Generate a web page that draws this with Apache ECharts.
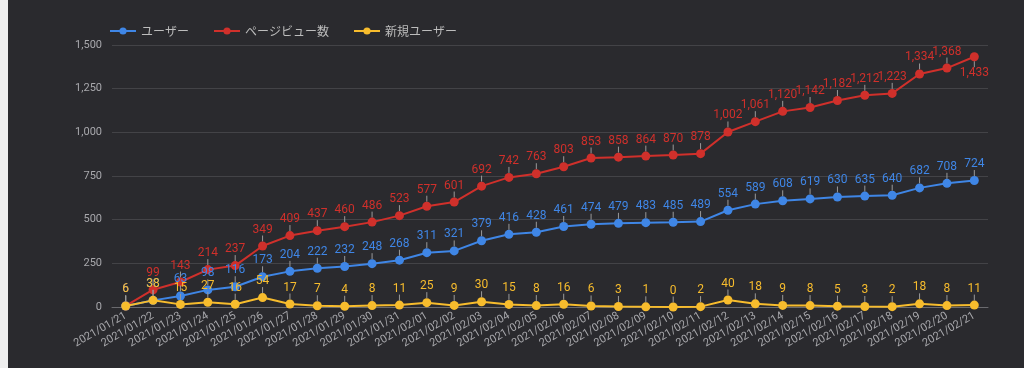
<!DOCTYPE html>
<html><head><meta charset="utf-8">
<script src="https://cdn.jsdelivr.net/npm/echarts@6/dist/echarts.min.js"></script>
<style>
html,body{margin:0;padding:0;background:#eeeeee;}
#wrap{position:absolute;left:8px;top:0;width:1016px;height:368px;background:#2a2a2e;}
#c{position:absolute;left:-8px;top:0;width:1024px;height:368px;}
</style></head>
<body><div id="wrap"><div id="c"></div></div>
<script>
const dates = ['2021/01/21','2021/01/22','2021/01/23','2021/01/24','2021/01/25','2021/01/26','2021/01/27','2021/01/28','2021/01/29','2021/01/30','2021/01/31','2021/02/01','2021/02/02','2021/02/03','2021/02/04','2021/02/05','2021/02/06','2021/02/07','2021/02/08','2021/02/09','2021/02/10','2021/02/11','2021/02/12','2021/02/13','2021/02/14','2021/02/15','2021/02/16','2021/02/17','2021/02/18','2021/02/19','2021/02/20','2021/02/21'];
const users = [6,38,63,98,116,173,204,222,232,248,268,311,321,379,416,428,461,474,479,483,485,489,554,589,608,619,630,635,640,682,708,724];
const pageViews = [6,99,143,214,237,349,409,437,460,486,523,577,601,692,742,763,803,853,858,864,870,878,1002,1061,1120,1142,1182,1212,1223,1334,1368,1433];
const newUsers = [6,38,15,27,16,54,17,7,4,8,11,25,9,30,15,8,16,6,3,1,0,2,40,18,9,8,5,3,2,18,8,11];
const yTicks = [0,250,500,750,1000,1250,1500];
const seriesNames = ['ユーザー','ページビュー数','新規ユーザー'];
const colors = ['#3f86e6','#d0302b','#f7bc2d'];

const chart = echarts.init(document.getElementById('c'), null, {renderer:'canvas'});
const fmt = v => v.toLocaleString('en-US');
function mk(name, data, color, z, lastBelow){
  return {
    name, type:'line', z,
    data: data,
    symbol:'circle', symbolSize:9, showSymbol:true,
    lineStyle:{width:2, color}, itemStyle:{color},
    label:{show:true, position:'top', distance:2, color, fontSize:12, fontFamily:'Roboto, sans-serif', formatter:p=>fmt(p.value)},
    labelLayout: function(p){
      if (lastBelow && p.dataIndex === data.length-1) {
        return {dy: (p.rect.y + p.rect.height + 6) - p.labelRect.y};
      }
      return {dy:-4};
    },
    labelLine:{show:true, lineStyle:{color:'#9a9a9a', width:1}},
    emphasis:{disabled:true}
  };
}
chart.setOption({
  backgroundColor:'transparent',
  animation:false,
  color: colors,
  legend:{
    top:20, left:104, itemWidth:26, itemHeight:9, itemGap:24,
    textStyle:{color:'#bdbdbd', fontSize:12, fontFamily:'"Noto Sans CJK JP", sans-serif'},
    data: seriesNames
  },
  grid:{left:112, right:36, top:45, bottom:61},
  xAxis:{type:'category', data:dates, boundaryGap:true,
     axisLine:{show:true, lineStyle:{color:'#6a6a6e', width:1}}, axisTick:{show:false},
     axisLabel:{interval:0, rotate:30, color:'#a8a8ac', fontSize:11, fontFamily:'Roboto, sans-serif', margin:8}},
  yAxis:{type:'value', min:yTicks[0], max:yTicks[yTicks.length-1], interval:250,
     axisLine:{show:false}, axisTick:{show:false},
     axisLabel:{color:'#a8a8ac', fontSize:11, fontFamily:'Roboto, sans-serif', margin:10, formatter:v=>fmt(v)},
     splitLine:{lineStyle:{color:'#434347', width:1}}},
  series:[
    mk(seriesNames[0], users, colors[0], 3, false),
    mk(seriesNames[1], pageViews, colors[1], 2, true),
    mk(seriesNames[2], newUsers, colors[2], 4, false)
  ]
});
</script></body></html>
